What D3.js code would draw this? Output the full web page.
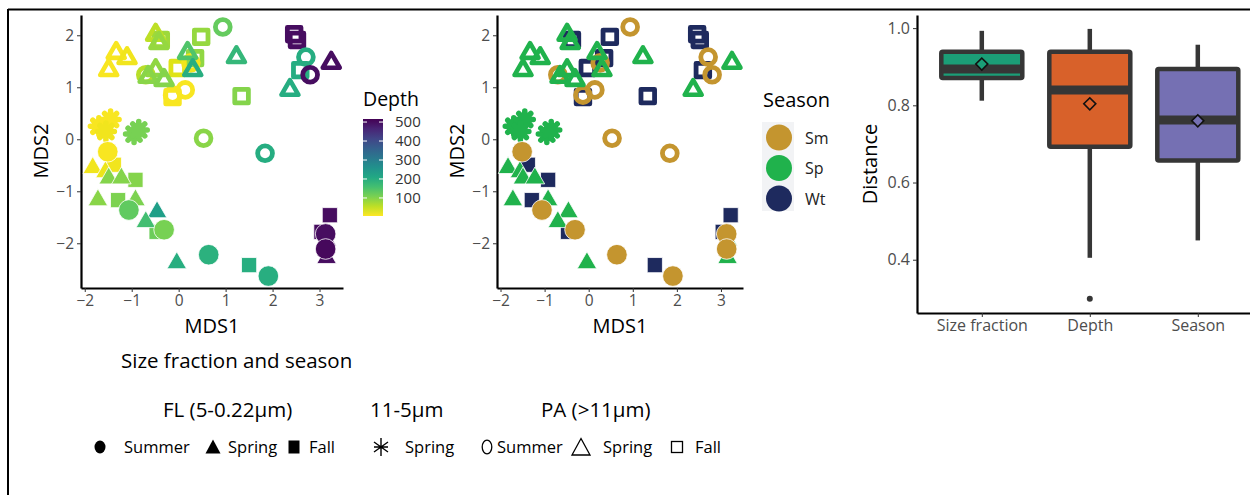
<!DOCTYPE html>
<html>
<head>
<meta charset="utf-8">
<script src="https://cdn.jsdelivr.net/npm/d3@7"></script>
<style>
  body { margin: 0; background: #fff; }
  svg text { font-family: "Open Sans", Lato, sans-serif; }
</style>
</head>
<body>
<svg id="fig" width="1250" height="495"></svg>
<script>
// ---- NMDS points: [MDS1, MDS2, depth]
const flSummer = [[-1.51,-0.24,10],[-1.06,-1.36,130],[-0.31,-1.74,110],[0.64,-2.22,190],[1.91,-2.63,195],[3.13,-1.82,500],[3.13,-2.11,505]];
const flSpring = [[-1.83,-0.55,15],[-1.56,-0.63,20],[-1.49,-0.75,100],[-1.22,-0.75,100],[-1.72,-1.17,95],[-0.92,-1.17,105],[-0.46,-1.40,230],[-0.70,-1.59,160],[-0.04,-2.38,195],[3.15,-1.94,500],[3.15,-2.28,500]];
const flFall = [[-1.38,-0.49,15],[-0.92,-0.78,100],[-1.29,-1.17,105],[-0.47,-1.78,120],[1.50,-2.42,195],[3.22,-1.46,500],[3.04,-1.78,500]];
const midSpring = [[-1.70,0.25,10],[-1.45,0.38,10],[-1.55,0.15,15],[-0.95,0.10,110],[-0.85,0.18,110]];
const paSummer = [[0.94,2.16,125],[-0.70,1.24,60],[0.26,1.47,15],[-0.13,0.85,10],[0.14,0.95,10],[2.71,1.58,200],[2.80,1.24,500],[0.53,0.02,95],[1.84,-0.27,200]];
const paSpring = [[-1.33,1.66,10],[-1.10,1.56,15],[-1.49,1.33,10],[-0.49,2.01,55],[-0.42,1.85,85],[-0.49,1.33,90],[-0.65,1.20,95],[-0.31,1.14,100],[0.19,1.66,145],[0.30,1.33,195],[1.23,1.58,175],[2.37,0.95,200],[3.25,1.47,500]];
const paFall = [[-0.38,1.91,80],[-0.13,0.81,10],[0.48,1.97,85],[0.35,1.56,90],[-0.02,1.37,30],[1.34,0.83,100],[2.46,2.02,500],[2.52,1.91,500],[2.59,1.33,200]];

const mdsXTicks = [-2, -1, 0, 1, 2, 3];
const mdsYTicks = [-2, -1, 0, 1, 2];
const depthTicks = [100, 200, 300, 400, 500];

const seasonNames = ["Sm", "Sp", "Wt"];
const seasonColors = ["#c4952f", "#20b24c", "#1e2a5e"];

// ---- box plot of distances
const boxCats = ["Size fraction", "Depth", "Season"];
const boxColors = ["#1b9e77", "#d8612a", "#7570b3"];
const boxLow = [0.812, 0.405, 0.450];
const boxQ1 = [0.871, 0.693, 0.657];
const boxMed = [0.894, 0.840, 0.762];
const boxQ3 = [0.939, 0.939, 0.894];
const boxHigh = [0.993, 0.998, 0.957];
const boxMean = [0.907, 0.804, 0.760];
const boxOutliers = [[], [0.299], []];
const boxYTicks = [0.4, 0.6, 0.8, 1.0];

// ---- shape legend
const legendGroups = ["FL (5-0.22μm)", "11-5μm", "PA (>11μm)"];
const legendKeys = [["dot","Summer"],["tri","Spring"],["sq","Fall"],["ast","Spring"],["ring","Summer"],["otri","Spring"],["osq","Fall"]];

const svg = d3.select("#fig");

// outer frame (top + left)
svg.append("line").attr("x1", 8).attr("x2", 1250).attr("y1", 9.5).attr("y2", 9.5).attr("stroke", "#000").attr("stroke-width", 2);
svg.append("line").attr("x1", 8).attr("x2", 8).attr("y1", 9).attr("y2", 495).attr("stroke", "#000").attr("stroke-width", 2);

const depthColor = d3.scaleSequential(d3.interpolateViridis).domain([516, 5]);
const seasonColor = d3.scaleOrdinal().domain(seasonNames).range(seasonColors);

const y = d3.scaleLinear().domain([-2.86, 2.39]).range([288, 15]);

const triPath = a => d3.symbol().type(d3.symbolTriangle).size(a)();
const sqPath = a => d3.symbol().type(d3.symbolSquare).size(a)();
const astPath = r => {
  const p = d3.path();
  for (let k = 0; k < 4; k++) {
    const t = k * Math.PI / 4;
    p.moveTo(-r * Math.cos(t), -r * Math.sin(t));
    p.lineTo(r * Math.cos(t), r * Math.sin(t));
  }
  return p.toString();
};

function drawPanel(x, colorOf) {
  const g = svg.append("g");
  const axX = g.append("g").attr("transform", "translate(0,288)")
    .call(d3.axisBottom(x).tickValues(mdsXTicks).tickSize(4).tickSizeOuter(0).tickPadding(3).tickFormat(d3.format("")));
  const axY = g.append("g").attr("transform", `translate(${x.range()[0]},0)`)
    .call(d3.axisLeft(y).tickValues(mdsYTicks).tickSize(4).tickSizeOuter(0).tickPadding(3).tickFormat(d3.format("")));
  [axX, axY].forEach(a => {
    a.select(".domain").attr("stroke", "#000").attr("stroke-width", 2.2);
    a.selectAll(".tick line").attr("stroke", "#333");
    a.selectAll(".tick text").attr("fill", "#4d4d4d").style("font-size", "15.5px");
  });

  const pts = g.append("g");
  const put = (data, season, fn) => data.forEach(d => {
    const c = colorOf(d, season);
    fn(pts, c).attr("transform", `translate(${x(d[0])},${y(d[1])})`);
  });
  // open (PA) markers
  put(paFall, "Wt", (s, c) => s.append("path").attr("d", sqPath(185)).attr("fill", "none").attr("stroke", c).attr("stroke-width", 4.8).attr("stroke-linejoin", "round"));
  put(paSummer, "Sm", (s, c) => s.append("circle").attr("r", 7.4).attr("fill", "none").attr("stroke", c).attr("stroke-width", 4.8));
  put(paSpring, "Sp", (s, c) => s.append("path").attr("d", triPath(125)).attr("fill", "none").attr("stroke", c).attr("stroke-width", 4.6).attr("stroke-linejoin", "round"));
  // 11-5 fraction
  put(midSpring, "Sp", (s, c) => s.append("path").attr("d", astPath(8.5)).attr("fill", "none").attr("stroke", c).attr("stroke-width", 5.5).attr("stroke-linecap", "round"));
  // filled (FL) markers
  put(flFall, "Wt", (s, c) => s.append("path").attr("d", sqPath(230)).attr("fill", c).attr("stroke", "#fff").attr("stroke-width", 0.8));
  put(flSpring, "Sp", (s, c) => s.append("path").attr("d", triPath(165)).attr("fill", c).attr("stroke", "#fff").attr("stroke-width", 0.8));
  put(flSummer, "Sm", (s, c) => s.append("circle").attr("r", 10.3).attr("fill", c).attr("stroke", "#fff").attr("stroke-width", 0.8));

  const mid = (x.range()[0] + x.range()[1]) / 2;
  g.append("text").attr("x", mid).attr("y", 333).attr("text-anchor", "middle").style("font-size", "20px").text("MDS1");
  g.append("text").attr("transform", `translate(${x.range()[0] - 33},151) rotate(-90)`).attr("text-anchor", "middle").style("font-size", "20px").text("MDS2");
}

const x1 = d3.scaleLinear().domain([-2.08, 3.5]).range([81, 343]);
const x2 = d3.scaleLinear().domain([-2.08, 3.5]).range([497, 743]);
drawPanel(x1, d => depthColor(d[2]));
drawPanel(x2, (d, s) => seasonColor(s));

// ---- depth colour bar
const dy = d3.scaleLinear().domain([5, 516]).range([216, 119]);
const defs = svg.append("defs");
const grad = defs.append("linearGradient").attr("id", "vir").attr("x1", 0).attr("x2", 0).attr("y1", 1).attr("y2", 0);
d3.range(0, 1.0001, 0.1).forEach(t => {
  grad.append("stop").attr("offset", t).attr("stop-color", depthColor(5 + t * 511));
});
svg.append("text").attr("x", 363).attr("y", 106).style("font-size", "19.5px").text("Depth");
svg.append("rect").attr("x", 363).attr("y", dy(516)).attr("width", 20).attr("height", dy(5) - dy(516)).attr("fill", "url(#vir)");
depthTicks.forEach(v => {
  svg.append("line").attr("x1", 363).attr("x2", 367).attr("y1", dy(v)).attr("y2", dy(v)).attr("stroke", "#fff");
  svg.append("line").attr("x1", 379).attr("x2", 383).attr("y1", dy(v)).attr("y2", dy(v)).attr("stroke", "#fff");
  svg.append("text").attr("x", 395).attr("y", dy(v) + 5).attr("fill", "#333").style("font-size", "15px").text(v);
});

// ---- season legend
svg.append("text").attr("x", 763).attr("y", 107).style("font-size", "20px").text("Season");
svg.append("rect").attr("x", 762).attr("y", 122).attr("width", 32).attr("height", 89).attr("fill", "#f2f3f5");
seasonNames.forEach((s, i) => {
  const cy = 137.5 + i * 30.5;
  svg.append("circle").attr("cx", 779).attr("cy", cy).attr("r", 13).attr("fill", seasonColor(s));
  svg.append("text").attr("x", 805).attr("y", cy + 6).attr("fill", "#222").style("font-size", "16px").text(s);
});

// ---- box plot
const bx = d3.scaleLinear().domain([0.4, 3.6]).range([917, 1262.6]);
const by = d3.scaleLinear().domain([0.262, 1.034]).range([313, 15]);
const bw = (bx(2) - bx(1)) * 0.75;
const bg = svg.append("g");
const bAxX = bg.append("g").attr("transform", "translate(0,313)")
  .call(d3.axisBottom(bx).tickValues([1, 2, 3]).tickSize(4).tickSizeOuter(0).tickPadding(3).tickFormat(i => boxCats[i - 1]));
const bAxY = bg.append("g").attr("transform", "translate(917,0)")
  .call(d3.axisLeft(by).tickValues(boxYTicks).tickSize(4).tickSizeOuter(0).tickPadding(3).tickFormat(d3.format(".1f")));
[bAxX, bAxY].forEach(a => {
  a.select(".domain").attr("stroke", "#000").attr("stroke-width", 2.2);
  a.selectAll(".tick line").attr("stroke", "#333");
  a.selectAll(".tick text").attr("fill", "#4d4d4d").style("font-size", "16px");
});
bg.append("text").attr("transform", "translate(877,164) rotate(-90)").attr("text-anchor", "middle").style("font-size", "20px").text("Distance");

boxCats.forEach((c, i) => {
  const cx = bx(i + 1);
  const col = "#363636";
  bg.append("line").attr("x1", cx).attr("x2", cx).attr("y1", by(boxHigh[i])).attr("y2", by(boxQ3[i])).attr("stroke", col).attr("stroke-width", 4.5);
  bg.append("line").attr("x1", cx).attr("x2", cx).attr("y1", by(boxQ1[i])).attr("y2", by(boxLow[i])).attr("stroke", col).attr("stroke-width", 4.5);
  bg.append("rect").attr("x", cx - bw / 2).attr("y", by(boxQ3[i])).attr("width", bw).attr("height", by(boxQ1[i]) - by(boxQ3[i]))
    .attr("fill", boxColors[i]).attr("stroke", col).attr("stroke-width", 4.5).attr("rx", 1.5);
  bg.append("line").attr("x1", cx - bw / 2).attr("x2", cx + bw / 2).attr("y1", by(boxMed[i])).attr("y2", by(boxMed[i])).attr("stroke", col).attr("stroke-width", 9);
  boxOutliers[i].forEach(v => {
    bg.append("circle").attr("cx", cx).attr("cy", by(v)).attr("r", 3).attr("fill", col);
  });
  bg.append("path").attr("d", sqPath(72)).attr("transform", `translate(${cx},${by(boxMean[i])}) rotate(45)`)
    .attr("fill", boxColors[i]).attr("stroke", "#111").attr("stroke-width", 1.6);
});

// ---- size fraction / season shape legend
const lg = svg.append("g");
lg.append("text").attr("x", 121).attr("y", 368).style("font-size", "20.5px").text("Size fraction and season");
[163, 370, 541].forEach((xp, i) => {
  lg.append("text").attr("x", xp).attr("y", 417).style("font-size", "20.5px").text(legendGroups[i]);
});
const keyX = [[100, 124], [213, 228], [294, 309], [381, 405], [487, 497], [581, 603], [677, 695]];
legendKeys.forEach(([shape, label], i) => {
  const [sx, tx] = keyX[i];
  const k = lg.append("g").attr("transform", `translate(${sx},447)`);
  if (shape === "dot") k.append("ellipse").attr("rx", 5.5).attr("ry", 6.5).attr("fill", "#000");
  if (shape === "tri") k.append("path").attr("d", "M0,-7.5L7.5,6.5L-7.5,6.5Z").attr("fill", "#000");
  if (shape === "sq") k.append("rect").attr("x", -5.5).attr("y", -6.5).attr("width", 11).attr("height", 13).attr("fill", "#000");
  if (shape === "ast") k.append("path").attr("d", "M0,-9V9M-7,-5L7,5M-7,5L7,-5M-7,0H7").attr("stroke", "#000").attr("stroke-width", 1.4).attr("fill", "none");
  if (shape === "ring") k.append("ellipse").attr("rx", 4.8).attr("ry", 6.8).attr("fill", "none").attr("stroke", "#000").attr("stroke-width", 1.3);
  if (shape === "otri") k.append("path").attr("d", "M0,-8.5L9,8L-9,8Z").attr("fill", "none").attr("stroke", "#000").attr("stroke-width", 1.3);
  if (shape === "osq") k.append("rect").attr("x", -5.5).attr("y", -5.5).attr("width", 11).attr("height", 11).attr("fill", "none").attr("stroke", "#000").attr("stroke-width", 1.3);
  lg.append("text").attr("x", tx).attr("y", 453).style("font-size", "16.5px").text(label);
});
</script>
</body>
</html>
